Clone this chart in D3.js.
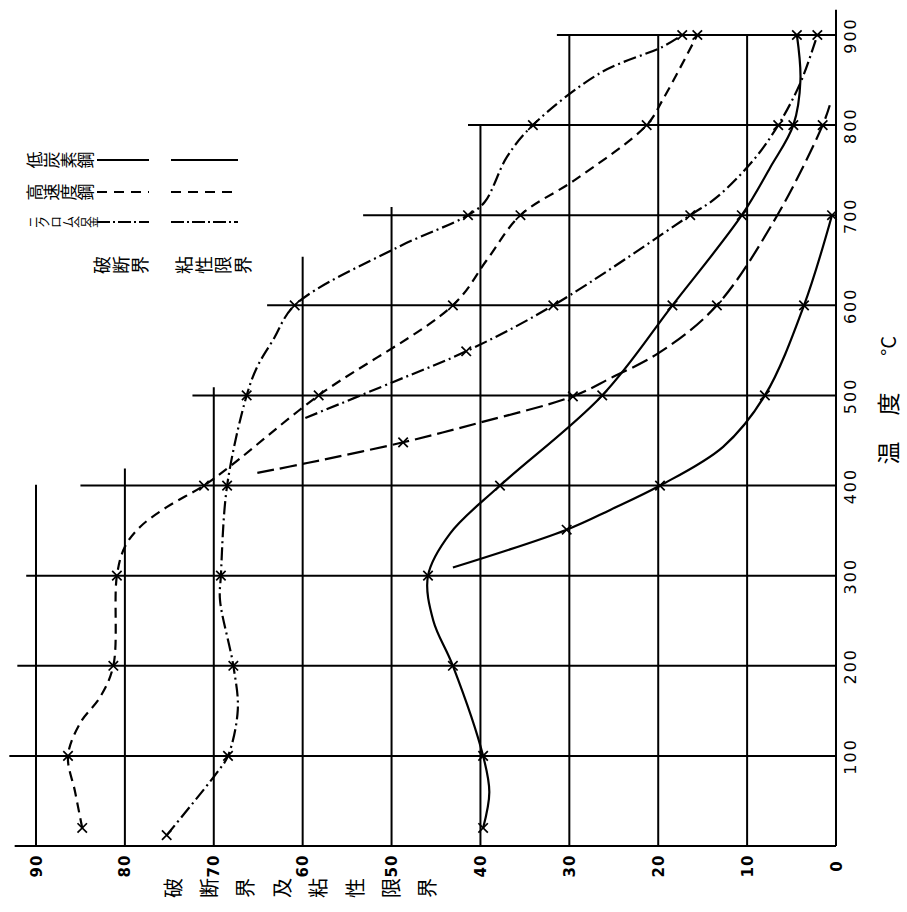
<!DOCTYPE html>
<html>
<head>
<meta charset="utf-8">
<script src="https://cdn.jsdelivr.net/npm/d3@7"></script>
<style>
  html, body { margin: 0; padding: 0; background: #fff; }
  svg { display: block; background: #fff; }
  .grid { stroke: #000; stroke-width: 2; fill: none; }
  .curve { fill: none; stroke: #000; stroke-width: 2.2; }
  .mark { fill: none; stroke: #000; stroke-width: 1.7; }
  .jp { font-family: "Noto Sans CJK JP", sans-serif; fill: #000; }
</style>
</head>
<body>
<svg id="chart" width="907" height="912"></svg>
<script>
// temperature gridlines (°C) and how far to the left each one is drawn (value units)
const tempTicks = [0, 100, 200, 300, 400, 500, 600, 700, 800, 900];
const tempLineReach = [92.4, 93, 92.1, 91.1, 85, 72.4, 64, 53.2, 41.4, 31.4];

// value gridlines and how high each one is drawn (°C)
const valueTicks = [0, 10, 20, 30, 40, 50, 60, 70, 80, 90];
const valueLineReach = [928, 900, 900, 900, 801, 709, 654, 509, 419, 401];

// texts
const materials = ['低炭素鋼', '高速度鋼', 'ニクロム合金'];
const limitNames = ['破断界', '粘性限界'];
const valueTitle = '破断界及粘性限界';
const tempTitle = ['温', '度', '°C'];

// curves: [temperature °C, value, 1 = marked point]
const lowCarbonBreak = [
    [20, 39.7, 1], [60, 39.0, 0], [100, 39.7, 1], [200, 43.1, 1], [250, 45.3, 0],
    [300, 45.9, 1], [347, 43.4, 0], [400, 37.8, 1], [500, 26.3, 1], [600, 18.4, 1],
    [700, 10.6, 1], [753, 7.4, 0], [800, 4.8, 1], [850, 4.0, 0], [900, 4.4, 1]
];
const lowCarbonYield = [
    [309, 43.1, 0], [351, 30.3, 1], [373, 25.4, 0], [400, 19.8, 1], [443, 12.7, 0],
    [500, 8.0, 1], [600, 3.6, 1], [700, 0.45, 1]
];
const highSpeedBreak = [
    [20, 84.8, 1], [60, 85.6, 0], [100, 86.4, 1], [137, 85.0, 0], [165, 82.8, 0],
    [200, 81.3, 1], [300, 80.9, 1], [332, 80.0, 0], [354, 78.3, 0], [376, 75.3, 0],
    [400, 71.1, 1], [421, 68.2, 0], [500, 58.2, 1], [600, 43.1, 1], [650, 39.3, 0],
    [700, 35.5, 1], [739, 29.4, 0], [800, 21.3, 1], [828, 19.5, 0], [900, 15.6, 1]
];
const highSpeedYield = [
    [414, 65.1, 0], [425, 59.5, 0], [448, 48.7, 1], [470, 40.0, 0], [499, 29.6, 1],
    [519, 25.4, 0], [548, 19.8, 0], [600, 13.4, 1], [700, 6.6, 0], [800, 1.5, 1],
    [822, 0.7, 0]
];
const nichromeBreak = [
    [12, 75.3, 1], [82, 69.6, 0], [100, 68.4, 1], [151, 67.3, 0], [200, 67.8, 1],
    [273, 69.3, 0], [300, 69.2, 1], [400, 68.5, 1], [500, 66.3, 1], [532, 65.1, 0],
    [562, 63.3, 0], [600, 60.9, 1], [664, 49.4, 0], [700, 41.4, 1], [715, 39.5, 0],
    [765, 37.0, 0], [800, 34.1, 1], [858, 26.5, 0], [887, 19.5, 0], [900, 17.3, 1]
];
const nichromeYield = [
    [475, 59.7, 0], [515, 49.8, 0], [549, 41.6, 1], [600, 31.8, 1], [700, 16.4, 1],
    [720, 13.4, 0], [761, 9.3, 0], [800, 6.5, 1], [847, 4.0, 0], [900, 2.1, 1]
];

class SidewaysChart {
    constructor(svgNode) {
        this.svg = d3.select(svgNode);
        // the sheet is turned a quarter turn: value runs right-to-left, temperature bottom-to-top
        this.x = d3.scaleLinear().domain([0, 90]).range([836, 36]);
        this.y = d3.scaleLinear().domain([0, 900]).range([846, 35]);
    }

    // a column of upright CJK characters, turned with the sheet
    charRow(str, x0, step, y, size) {
        this.svg.append('g').selectAll('text')
            .data(Array.from(str))
            .join('text')
            .attr('class', 'jp')
            .attr('font-size', size)
            .attr('text-anchor', 'middle')
            .attr('dominant-baseline', 'central')
            .attr('transform', (c, i) => `translate(${x0 + i * step},${y}) rotate(-90)`)
            .text(c => c);
    }

    drawGrid() {
        const { x, y } = this;
        const g = this.svg.append('g');

        g.selectAll('.tline')
            .data(tempTicks)
            .join('line')
            .attr('class', 'grid')
            .attr('x1', (t, i) => x(tempLineReach[i]))
            .attr('x2', x(0))
            .attr('y1', t => y(t))
            .attr('y2', t => y(t));

        g.selectAll('.vline')
            .data(valueTicks)
            .join('line')
            .attr('class', 'grid')
            .attr('x1', v => x(v))
            .attr('x2', v => x(v))
            .attr('y1', y(0))
            .attr('y2', (v, i) => y(valueLineReach[i]));
    }

    drawAxes() {
        const { x, y } = this;

        const tAxis = this.svg.append('g')
            .attr('transform', 'translate(850,0)')
            .call(d3.axisRight(y).tickValues(tempTicks.slice(1)).tickSize(0));
        tAxis.select('.domain').remove();
        tAxis.selectAll('text')
            .attr('x', 0).attr('dy', null)
            .attr('text-anchor', 'middle')
            .attr('dominant-baseline', 'central')
            .attr('transform', 'rotate(-90)')
            .attr('font-family', 'DejaVu Sans')
            .attr('font-size', 16)
            .attr('letter-spacing', 2);

        const vAxis = this.svg.append('g')
            .attr('transform', 'translate(0,866)')
            .call(d3.axisBottom(x).tickValues(valueTicks).tickSize(0));
        vAxis.select('.domain').remove();
        vAxis.selectAll('text')
            .attr('y', 0).attr('dy', null)
            .attr('text-anchor', 'middle')
            .attr('dominant-baseline', 'central')
            .attr('transform', 'rotate(-90)')
            .attr('font-family', 'DejaVu Sans')
            .attr('font-weight', 'bold')
            .attr('font-size', 15)
            .attr('letter-spacing', 1);

        // axis titles
        this.charRow(valueTitle, 172, 36.4, 888, 20);
        const tPos = [[887, 453], [887, 404], [887, 346]];
        this.svg.append('g').selectAll('text')
            .data(tempTitle)
            .join('text')
            .attr('class', 'jp')
            .attr('font-size', (c, i) => i === 2 ? 20 : 23)
            .attr('text-anchor', 'middle')
            .attr('dominant-baseline', 'central')
            .attr('transform', (c, i) => `translate(${tPos[i][0]},${tPos[i][1]}) rotate(-90)`)
            .text(c => c);
    }

    drawCurves() {
        const { x, y } = this;
        const series = [
            { pts: lowCarbonBreak, dash: null },
            { pts: lowCarbonYield, dash: null },
            { pts: highSpeedBreak, dash: '10,6' },
            { pts: highSpeedYield, dash: '17,6' },
            { pts: nichromeBreak, dash: '13,4,2,4' },
            { pts: nichromeYield, dash: '13,4,2,4' }
        ];

        const line = d3.line()
            .x(d => x(d[1]))
            .y(d => y(d[0]))
            .curve(d3.curveCatmullRom.alpha(0.5));

        const g = this.svg.append('g');
        g.selectAll('path.curve')
            .data(series)
            .join('path')
            .attr('class', 'curve')
            .attr('stroke-dasharray', s => s.dash)
            .attr('d', s => line(s.pts));

        const marks = series.flatMap(s => s.pts.filter(p => p[2]));
        g.selectAll('path.mark')
            .data(marks)
            .join('path')
            .attr('class', 'mark')
            .attr('transform', d => `translate(${x(d[1])},${y(d[0])})`)
            .attr('d', d3.symbol(d3.symbolX, 60));
    }

    drawLegend() {
        const rows = [160, 192, 222];
        const dashes = [null, '10,7', '13,3,2,3'];
        const cols = [[97, 149], [171, 238]];

        this.charRow(materials[0], 33.5, 17, rows[0], 17);
        this.charRow(materials[1], 33.5, 17, rows[1], 17);
        this.charRow(materials[2], 32, 11.8, rows[2], 12);

        const g = this.svg.append('g');
        rows.forEach((ry, i) => {
            cols.forEach(c => {
                g.append('line')
                    .attr('class', 'curve')
                    .attr('x1', c[0]).attr('x2', c[1])
                    .attr('y1', ry).attr('y2', ry)
                    .attr('stroke-dasharray', dashes[i]);
            });
        });

        this.charRow(limitNames[0], 101, 19, 265, 18);
        this.charRow(limitNames[1], 183, 19.5, 265, 18);
    }

    render() {
        this.drawGrid();
        this.drawCurves();
        this.drawAxes();
        this.drawLegend();
    }
}

const chart = new SidewaysChart(document.getElementById('chart'));
chart.render();
</script>
</body>
</html>
